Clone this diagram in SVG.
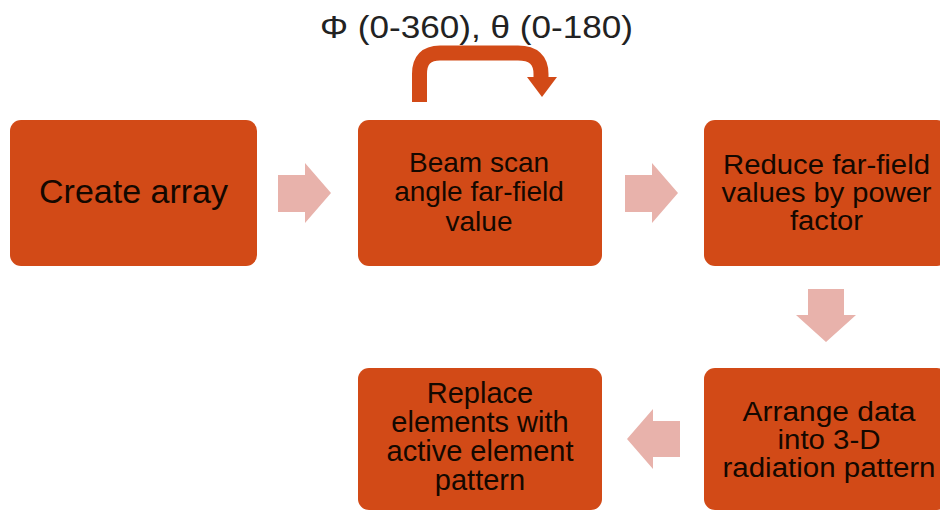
<svg xmlns="http://www.w3.org/2000/svg" width="940" height="512" viewBox="0 0 940 512">
  <style>
    .box { fill: #D24A17; }
    .lbl { font-family: "Liberation Sans", Arial, sans-serif; fill: #140800; text-anchor: middle; }
    .conn { fill: #E8B2AB; }
  </style>
  <rect width="940" height="512" fill="#ffffff"/>
  <text class="lbl" x="476.5" y="38" font-size="32" style="fill:#222" textLength="313" lengthAdjust="spacingAndGlyphs">Φ (0-360), θ (0-180)</text>
  <g id="connectors">
    <polygon class="conn" points="278,175 305,175 305,163 331,193 305,223 305,212 278,212"/>
    <polygon class="conn" points="625,175 652,175 652,163 678,193 652,223 652,212 625,212"/>
    <polygon class="conn" points="808,289 844,289 844,315 856,315 826,342 796,315 808,315"/>
    <polygon class="conn" points="680,421 653,421 653,409 627,439 653,469 653,457 680,457"/>
    <g id="loop">
      <path d="M419.5,102 V74 Q419.5,53 440,53 H518 Q541,53 541,74 V78" fill="none" stroke="#D24A17" stroke-width="15"/>
      <polygon points="527,77 557,77 542,97" fill="#D24A17"/>
    </g>
  </g>
  <g id="create-array">
    <rect class="box" x="10" y="120" width="247" height="146" rx="11"/>
    <text class="lbl" x="133.5" y="203" font-size="34">Create array</text>
  </g>
  <g id="beam-scan">
    <rect class="box" x="358" y="120" width="244" height="146" rx="11"/>
    <text class="lbl" font-size="28"><tspan x="479" y="172">Beam scan</tspan><tspan x="479" y="201">angle far-field</tspan><tspan x="479" y="231">value</tspan></text>
  </g>
  <g id="reduce">
    <rect class="box" x="704" y="120" width="244" height="146" rx="11"/>
    <text class="lbl" font-size="27"><tspan x="826.5" y="174" textLength="207" lengthAdjust="spacingAndGlyphs">Reduce far-field</tspan><tspan x="826.5" y="202" textLength="210" lengthAdjust="spacingAndGlyphs">values by power</tspan><tspan x="826.5" y="230" textLength="73" lengthAdjust="spacingAndGlyphs">factor</tspan></text>
  </g>
  <g id="arrange">
    <rect class="box" x="704" y="368" width="244" height="142" rx="11"/>
    <text class="lbl" font-size="27"><tspan x="829" y="421" textLength="173" lengthAdjust="spacingAndGlyphs">Arrange data</tspan><tspan x="829" y="449" textLength="103" lengthAdjust="spacingAndGlyphs">into 3-D</tspan><tspan x="829" y="477" textLength="213" lengthAdjust="spacingAndGlyphs">radiation pattern</tspan></text>
  </g>
  <g id="replace">
    <rect class="box" x="358" y="368" width="244" height="142" rx="11"/>
    <text class="lbl" font-size="29"><tspan x="480" y="403">Replace</tspan><tspan x="480" y="432">elements with</tspan><tspan x="480" y="461">active element</tspan><tspan x="480" y="490">pattern</tspan></text>
  </g>
</svg>
